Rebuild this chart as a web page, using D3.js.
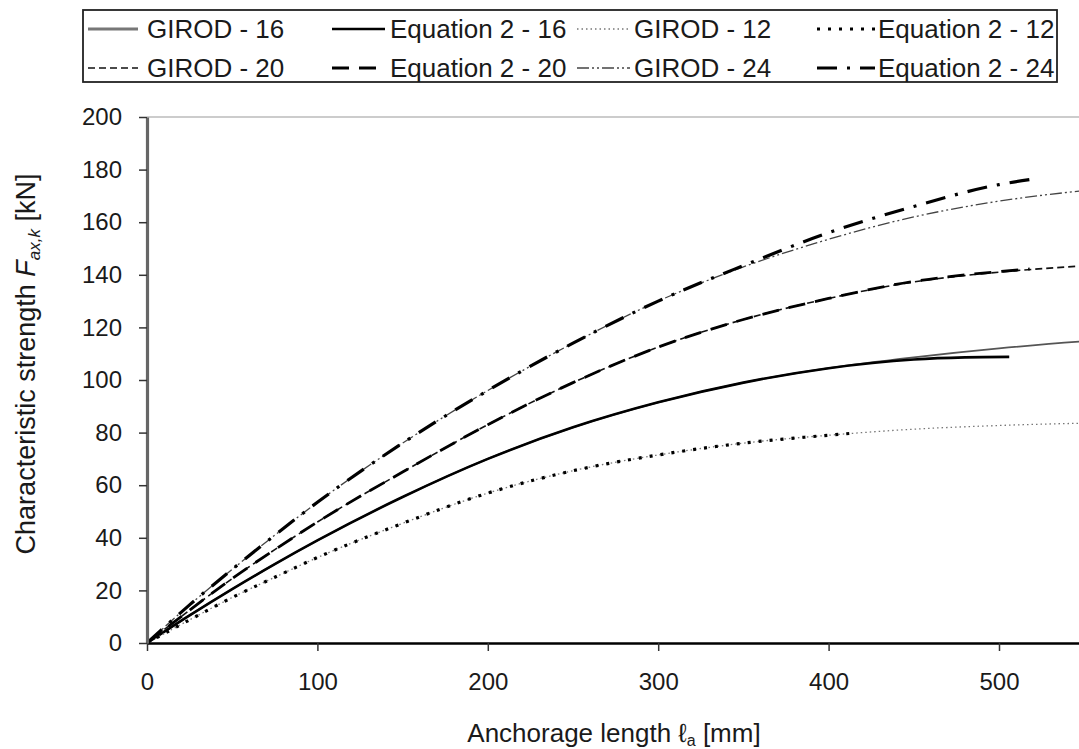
<!DOCTYPE html>
<html>
<head>
<meta charset="utf-8">
<script src="https://cdn.jsdelivr.net/npm/d3@7"></script>
<style>
  html, body { margin: 0; padding: 0; background: #fff; }
  svg { display: block; }
  text { font-family: "Liberation Sans", Arial, sans-serif; fill: #1a1a1a; }
</style>
</head>
<body>
<svg id="chart" width="1079" height="749"></svg>
<script>
// Anchorage length (mm) and characteristic strength (kN) per rod diameter
const eq24x   = [0, 25, 50, 75, 100, 150, 200, 250, 300, 350, 400, 450, 500, 519];
const eq24y   = [0, 14.5, 28, 41, 53.5, 76, 96, 114, 130, 143.5, 156, 166, 174.3, 176.3];
const girod24x = [0, 25, 50, 75, 100, 150, 200, 250, 300, 350, 400, 450, 500, 550, 600];
const girod24y = [0, 14.5, 28, 41, 53.5, 76, 96, 114, 130, 143, 153.5, 162, 168, 172, 174.5];

const eq20x   = [0, 25, 50, 75, 100, 150, 200, 250, 300, 350, 400, 450, 500, 518];
const eq20y   = [0, 12.5, 24.5, 35.5, 46, 65, 83, 99, 112.5, 123, 131, 137.5, 141.2, 142.2];
const girod20x = [0, 25, 50, 75, 100, 150, 200, 250, 300, 350, 400, 450, 500, 550, 600];
const girod20y = [0, 12.5, 24.5, 35.5, 46, 65, 83, 99, 112.5, 123, 131, 137.3, 141, 143.4, 145];

const eq16x   = [0, 25, 50, 75, 100, 150, 200, 250, 300, 350, 400, 450, 480, 506];
const eq16y   = [0, 10.5, 20.5, 30, 39, 55.5, 70, 82, 91.5, 99, 104.5, 107.8, 108.6, 108.8];
const girod16x = [0, 25, 50, 75, 100, 150, 200, 250, 300, 350, 400, 450, 500, 550, 600];
const girod16y = [0, 10.5, 20.5, 30, 39, 55.5, 70, 82, 91.5, 99, 104.5, 108.6, 112, 114.7, 116.5];

const eq12x   = [0, 25, 50, 75, 100, 150, 200, 250, 300, 350, 400, 415];
const eq12y   = [0, 8.8, 17.3, 25, 32.5, 45.5, 57, 65.5, 71.5, 76, 79, 79.8];
const girod12x = [0, 25, 50, 75, 100, 150, 200, 250, 300, 350, 400, 450, 500, 550, 600];
const girod12y = [0, 8.8, 17.3, 25, 32.5, 45.5, 57, 65.5, 71.5, 76, 79, 81.3, 82.7, 83.6, 84.2];

const xTicks = [0, 100, 200, 300, 400, 500];
const yTicks = [0, 20, 40, 60, 80, 100, 120, 140, 160, 180, 200];

// Series styles: [label, xs, ys, colour, width, dash]
const series = [
  ["GIROD - 16",      girod16x, girod16y, "#555", 1.8, null],
  ["Equation 2 - 16", eq16x,    eq16y,    "#000", 2.6, null],
  ["GIROD - 12",      girod12x, girod12y, "#777", 1.3, "1.5,3"],
  ["Equation 2 - 12", eq12x,    eq12y,    "#000", 3.2, "3,8"],
  ["GIROD - 20",      girod20x, girod20y, "#111", 1.6, "7,4"],
  ["Equation 2 - 20", eq20x,    eq20y,    "#000", 2.8, "17,10"],
  ["GIROD - 24",      girod24x, girod24y, "#444", 1.3, "12,3,2,3,2,3"],
  ["Equation 2 - 24", eq24x,    eq24y,    "#000", 3.2, "20,10,3,10"]
];

const svg = d3.select("#chart");
const x = d3.scaleLinear().domain([0, 600]).range([147, 147 + 6 * 170.4]);
const y = d3.scaleLinear().domain([0, 200]).range([643, 117]);

// top border of the plot area
svg.append("line")
  .attr("x1", x(0)).attr("x2", x(600))
  .attr("y1", y(200)).attr("y2", y(200))
  .attr("stroke", "#999").attr("stroke-width", 1);

// curves
const line = d3.line().x(d => x(d[0])).y(d => y(d[1])).curve(d3.curveMonotoneX);
series.forEach(([label, xs, ys, col, w, dash]) => {
  svg.append("path")
    .datum(xs.map((v, i) => [v, ys[i]]))
    .attr("d", line)
    .attr("fill", "none")
    .attr("stroke", col)
    .attr("stroke-width", w)
    .attr("stroke-dasharray", dash)
    .attr("stroke-linecap", "butt");
});

// x axis
const xAxis = svg.append("g").attr("transform", `translate(0,${y(0)})`)
  .call(d3.axisBottom(x).tickValues(xTicks).tickSize(8).tickSizeOuter(0).tickPadding(22));
xAxis.select(".domain").attr("stroke", "#000").attr("stroke-width", 2.5);
xAxis.selectAll(".tick line").attr("stroke", "#333").attr("stroke-width", 1.5);
xAxis.selectAll(".tick text").attr("font-size", 24).attr("fill", "#1a1a1a")
  .style("font-family", "'Liberation Sans', Arial, sans-serif");

// y axis
const yAxis = svg.append("g").attr("transform", `translate(${x(0)},0)`)
  .call(d3.axisLeft(y).tickValues(yTicks).tickSize(8).tickSizeOuter(0).tickPadding(17));
yAxis.select(".domain").attr("stroke", "#666").attr("stroke-width", 3.2);
yAxis.selectAll(".tick line").attr("stroke", "#333").attr("stroke-width", 1.5);
yAxis.selectAll(".tick text").attr("font-size", 24).attr("fill", "#1a1a1a")
  .style("font-family", "'Liberation Sans', Arial, sans-serif");

// axis titles
const xt = svg.append("text")
  .attr("x", 614).attr("y", 742)
  .attr("text-anchor", "middle").attr("font-size", 26);
xt.append("tspan").text("Anchorage length ");
xt.append("tspan").text("ℓ");
xt.append("tspan").attr("font-size", 16).attr("dy", 4).text("a");
xt.append("tspan").attr("dy", -4).text(" [mm]");

const yt = svg.append("text")
  .attr("transform", "translate(35,364) rotate(-90)")
  .attr("text-anchor", "middle").attr("font-size", 27);
yt.append("tspan").text("Characteristic strength ");
yt.append("tspan").attr("font-style", "italic").text("F");
yt.append("tspan").attr("font-style", "italic").attr("font-size", 17).attr("dy", 5).text("ax,k");
yt.append("tspan").attr("dy", -5).text(" [kN]");

// legend
svg.append("rect")
  .attr("x", 83).attr("y", 10).attr("width", 974).attr("height", 72)
  .attr("fill", "#fff").attr("stroke", "#222").attr("stroke-width", 1.8);

const legendCols = [
  { x1: 88,  x2: 138, tx: 147 },
  { x1: 332, x2: 385, tx: 390 },
  { x1: 577, x2: 630, tx: 634 },
  { x1: 817, x2: 875, tx: 878 }
];
const legendRows = [29, 68];
series.forEach(([label, xs, ys, col, w, dash], i) => {
  const c = legendCols[i % 4];
  const r = legendRows[Math.floor(i / 4)];
  const isGirod16 = i === 0;
  svg.append("line")
    .attr("x1", c.x1).attr("x2", c.x2).attr("y1", r).attr("y2", r)
    .attr("stroke", isGirod16 ? "#777" : col)
    .attr("stroke-width", isGirod16 ? 3 : w)
    .attr("stroke-dasharray", dash);
  svg.append("text")
    .attr("x", c.tx).attr("y", r + 9)
    .attr("font-size", 26)
    .text(label);
});
</script>
</body>
</html>
